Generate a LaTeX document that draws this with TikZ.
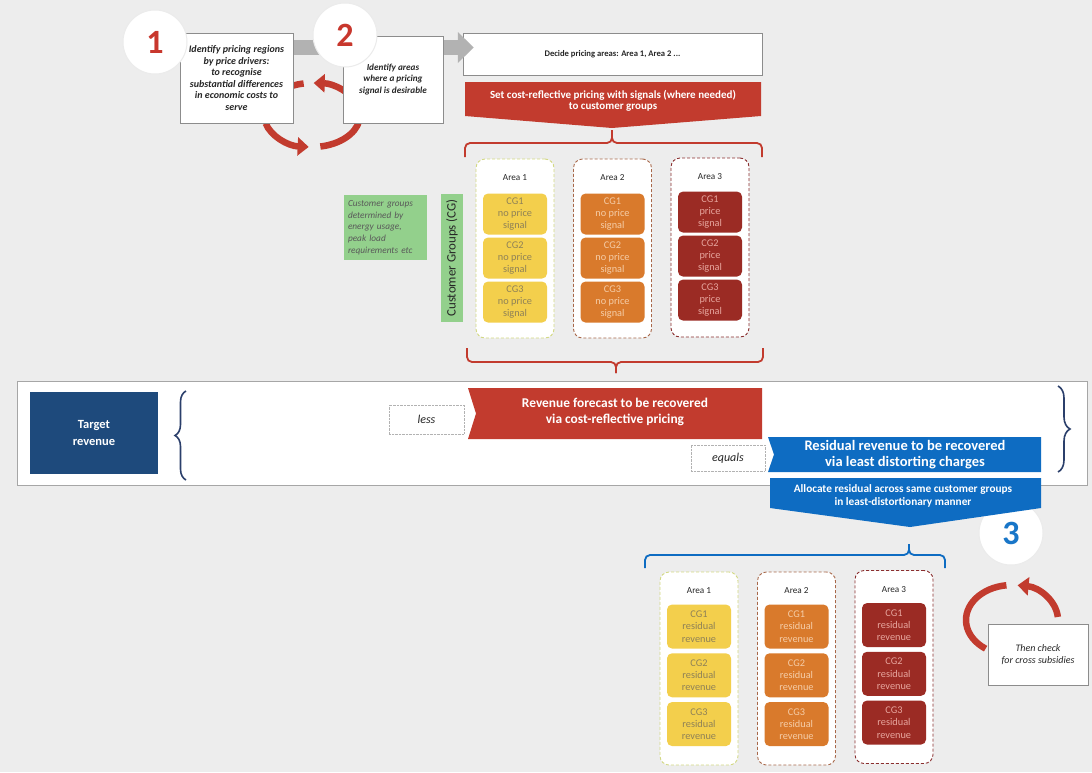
\documentclass[tikz,border=0pt]{standalone}
\usepackage{fontspec}
\setmainfont{Carlito}
\usepackage{tikz}
\usetikzlibrary{arrows.meta, calc, positioning, decorations.pathreplacing}
\definecolor{paper}{HTML}{EDEDED}
\definecolor{sred}{HTML}{C23B2E}
\definecolor{numred}{HTML}{C8372D}
\definecolor{snavy}{HTML}{1E4A7C}
\definecolor{sblue}{HTML}{0E6CC2}
\definecolor{numblue}{HTML}{1976C8}
\definecolor{sbrace}{HTML}{2B3F6B}
\definecolor{flowgray}{HTML}{B2B2B2}
\definecolor{cggreen}{HTML}{93D08C}
\definecolor{inktext}{HTML}{262626}
\definecolor{yelfill}{HTML}{F3CF4C}
\definecolor{yeltext}{HTML}{8E8157}
\definecolor{yelframe}{HTML}{D2D882}
\definecolor{orgfill}{HTML}{D97A2C}
\definecolor{orgtext}{HTML}{F5CDA8}
\definecolor{orgframe}{HTML}{A8684A}
\definecolor{marfill}{HTML}{9B2B24}
\definecolor{martext}{HTML}{E7A69E}
\definecolor{marframe}{HTML}{8A2E2E}
\tikzset{
  stepbox/.style   = {draw=black!45, fill=white, align=center, inner sep=2pt, text=inktext,
                      font=\fontsize{10}{11.6}\selectfont\bfseries\itshape},
  stepnum/.style   = {circle, fill=white, draw=black!8, line width=1pt, minimum size=64pt,
                      inner sep=0pt, font=\fontsize{34}{34}\selectfont\bfseries},
  decidebox/.style = {draw=black!45, fill=white, minimum width=299pt, minimum height=42pt,
                      font=\fontsize{8.6}{10}\selectfont\bfseries, text=inktext},
  bandarrow/.style = {draw=flowgray, line width=15pt, -{Triangle[length=16pt, width=30pt]},
                      shorten >=-11pt},
  cycarrow/.style  = {draw=sred, line width=6.5pt, -{Triangle[length=11pt, width=18pt]}},
  cycband/.style   = {draw=sred, line width=6.5pt},
  bannertext/.style= {text=white, align=center, inner sep=0pt,
                      font=\fontsize{11}{11.5}\selectfont\bfseries},
  boxtext/.style   = {text=white, align=center, inner sep=0pt,
                      font=\fontsize{13.4}{16}\selectfont\bfseries},
  bracered/.style  = {draw=sred, line width=1.8pt, rounded corners=5pt},
  braceblue/.style = {draw=sblue, line width=1.8pt, rounded corners=5pt},
  bracenavy/.style = {decorate, draw=sbrace, line width=1.6pt},
  cgnote/.style    = {fill=cggreen, text=black!65, align=left, text width=75pt, inner sep=4pt,
                      minimum height=65pt, font=\fontsize{9.3}{11.7}\selectfont\itshape},
  cglabel/.style   = {fill=cggreen, text=inktext, minimum width=128pt, minimum height=22pt,
                      inner sep=0pt, font=\fontsize{12.9}{13}\selectfont},
  areaframe/.style = {draw=#1frame, densely dashed, line width=0.9pt, fill=white,
                      rounded corners=9pt, minimum width=78pt, inner sep=0pt},
  arealab/.style   = {text=inktext, inner sep=0pt, font=\fontsize{9.2}{10}\selectfont},
  cgbox/.style     = {fill=#1fill, text=#1text, rounded corners=5pt, minimum width=64pt,
                      align=center, inner sep=0pt, font=\fontsize{10.3}{12.3}\selectfont},
  rowframe/.style  = {draw=black!35, fill=white, line width=0.7pt, minimum width=1070pt,
                      minimum height=104pt},
  targetbox/.style = {fill=snavy, text=white, align=center, minimum width=128pt,
                      minimum height=82pt, font=\fontsize{12.5}{17}\selectfont\bfseries},
  opbox/.style     = {draw=black!30, densely dotted, fill=white, text=inktext,
                      font=\fontsize{12}{13}\selectfont\itshape},
}
\newcommand{\areacol}[9]{%
  \node[areaframe=#3, minimum height=#6] (#1) at (#2) {};
  \node[arealab] (#1lab) at ($(#1.north)+(0,19)$) {Area #4};
  \node[cgbox=#3, minimum height=#7] (#1cg1) at ($(#1.north)+(0,#9)$) {CG1\\#5};
  \node[cgbox=#3, minimum height=#7] (#1cg2) at ($(#1cg1)+(0,#8)$) {CG2\\#5};
  \node[cgbox=#3, minimum height=#7] (#1cg3) at ($(#1cg2)+(0,#8)$) {CG3\\#5};}

\begin{document}
\begin{tikzpicture}[x=1pt, y=-1pt]
  \fill[paper] (0,0) rectangle (1092,772);
  \useasboundingbox (0,0) rectangle (1092,772);

  \node[decidebox] (decide) at (612.5,54) {Decide pricing areas: Area 1, Area 2 ...};
  \coordinate (flowstart) at (290,47.5);
  \draw[bandarrow] (flowstart) -- (decide.west |- flowstart);

  \coordinate (loopA) at (312,115);
  \draw[cycarrow] ($(loopA)+(-20:48 and 32)$) arc[start angle=-20, end angle=-88, x radius=48, y radius=32];
  \draw[cycband] ($(loopA)+(-100:48 and 32)$) arc[start angle=-100, end angle=-160, x radius=48, y radius=32];
  \draw[cycarrow] ($(loopA)+(-195:48 and 32)$) arc[start angle=-195, end angle=-266, x radius=48, y radius=32];
  \draw[cycband] ($(loopA)+(-280:48 and 32)$) arc[start angle=-280, end angle=-350, x radius=48, y radius=32];

  \node[stepbox, minimum width=113pt, minimum height=90pt] (stepone) at (236.5,78)
    {Identify pricing regions\\by price drivers:\\to recognise\\substantial differences\\in economic costs to\\serve};
  \node[stepbox, font=\fontsize{9.2}{11.5}\selectfont\bfseries\itshape, minimum width=100pt,
    minimum height=87pt] (steptwo) at (393,79.5) {Identify areas\\where a pricing\\signal is desirable};
  \node[stepnum, text=numred] (numone) at (155,42) {1};
  \node[stepnum, text=numred] (numtwo) at (345,35) {2};

  \fill[sred] (465,82) -- (761,82) -- (761,116) -- (612,128) -- (465,116) -- cycle;
  \node[bannertext] (setprice) at (613,101) {Set cost-reflective pricing with signals (where needed)\\to customer groups};
  \draw[bracered] (465,157) |- (612,143) -- (612,130);
  \draw[bracered] (762,157) |- (612,143) -- (612,130);

  \node[cgnote] (cgnote) at (385.5,227.5) {Customer groups\\determined by\\energy usage,\\peak load\\requirements etc};
  \node[cglabel, rotate=90] (cglab) at (452,258) {Customer Groups (CG)};

  \areacol{topA}{515,248.5}{yel}{1}{no price\\signal}{179pt}{41pt}{44}{55.5}
  \areacol{topB}{612.5,248.5}{org}{2}{no price\\signal}{179pt}{41pt}{44}{55.5}
  \areacol{topC}{710,247.5}{mar}{3}{price\\signal}{179pt}{41pt}{44}{54.5}

  \draw[bracered] (467,348) |- (616,362) -- (616,373);
  \draw[bracered] (763,348) |- (616,362) -- (616,373);

  \node[rowframe] (revrow) at (552,433) {};
  \node[targetbox] (target) at (94,432.5) {Target\\revenue};
  \draw[bracenavy, decoration={brace, amplitude=11pt}] (186,480) -- (186,391);
  \draw[bracenavy, decoration={brace, amplitude=12pt}] (1058,386) -- (1058,472);
  \node[opbox, minimum width=75pt, minimum height=29pt] (less) at (426.5,419.5) {less};
  \fill[sred] (468,388) -- (762,388) -- (762,439) -- (468,439) -- (476,413.5) -- cycle;
  \node[boxtext] (revfc) at (615,412) {Revenue forecast to be recovered\\via cost-reflective pricing};
  \node[opbox, minimum width=74pt, minimum height=26pt] (equals) at (728,458) {equals};
  \fill[sblue] (768,437) -- (1041,437) -- (1041,472) -- (768,472) -- (774,454.5) -- cycle;
  \node[boxtext, font=\fontsize{14.5}{16}\selectfont\bfseries] (resid) at (905,455)
    {Residual revenue to be recovered\\via least distorting charges};

  \node[stepnum, text=numblue] (numthree) at (1011,533) {3};
  \fill[sblue] (770,478) -- (1041,478) -- (1041,508) -- (910,527) -- (770,508) -- cycle;
  \node[bannertext, font=\fontsize{11.3}{13}\selectfont\bfseries] (alloc) at (903,496)
    {Allocate residual across same customer groups\\in least-distortionary manner};
  \draw[braceblue] (645,568) |- (909,555) -- (909,544);
  \draw[braceblue] (945,568) |- (909,555) -- (909,544);

  \areacol{botA}{699,668.5}{yel}{1}{residual\\revenue}{193pt}{44pt}{48.75}{55}
  \areacol{botB}{796.5,668.5}{org}{2}{residual\\revenue}{193pt}{44pt}{48.75}{55}
  \areacol{botC}{894,667}{mar}{3}{residual\\revenue}{193pt}{44pt}{48.75}{55}

  \coordinate (loopB) at (1012,620);
  \draw[cycarrow] ($(loopB)+(-5:46 and 35)$) arc[start angle=-5, end angle=-83, x radius=46, y radius=35];
  \draw[cycband] ($(loopB)+(-97:46 and 35)$) arc[start angle=-97, end angle=-235, x radius=46, y radius=35];
  \node[stepbox, font=\fontsize{10}{12}\selectfont\itshape, minimum width=100pt, minimum height=61pt]
    (check) at (1038,654.5) {Then check\\for cross subsidies};
\end{tikzpicture}
\end{document}
